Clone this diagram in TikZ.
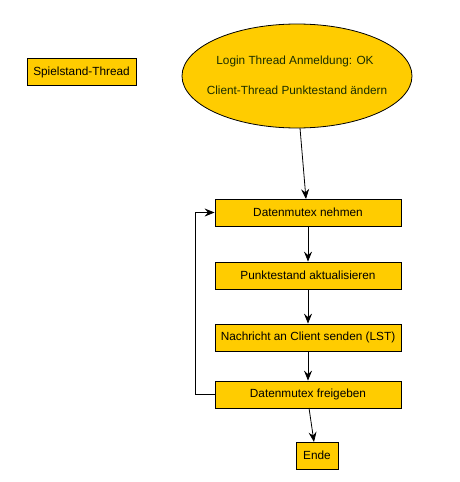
\documentclass[tikz,border=0pt]{standalone}
\usepackage{fontspec}
\setmainfont{Liberation Sans}
\usetikzlibrary{arrows.meta}
\definecolor{boxfill}{HTML}{FFCC00}
\definecolor{elltext}{RGB}{25,45,0}
\begin{document}
\begin{tikzpicture}[x=1pt,y=-1pt,
  box/.style={draw=black,fill=boxfill,line width=0.8pt,inner sep=0pt,font=\fontsize{11.8}{13}\selectfont},
  conn/.style={draw=black,line width=0.8pt,-{Stealth[length=10pt,width=8pt,inset=3.5pt]}},
  link/.style={draw=black,line width=0.8pt}]
\useasboundingbox (0,0) rectangle (460,482);
\node[box,minimum width=109pt,minimum height=27pt] (spiel) at (81.5,72) {Spielstand-Thread};
\draw[fill=boxfill,line width=0.8pt] (297,76) ellipse [x radius=115, y radius=52];
\node[inner sep=0pt,minimum width=230pt,minimum height=104pt] (ell) at (297,76) {};
\node[text=elltext,font=\fontsize{11.8}{13}\selectfont] (l1) at (295,61) {Login Thread Anmeldung: OK};
\node[text=elltext,font=\fontsize{11.8}{13}\selectfont] (l2) at (297,90) {Client-Thread Punktestand ändern};
\node[box,minimum width=186pt,minimum height=27pt] (nehmen) at (308,212.5) {Datenmutex nehmen};
\node[box,minimum width=186pt,minimum height=27pt] (punkt) at (308,275.5) {Punktestand aktualisieren};
\node[box,minimum width=186pt,minimum height=27pt] (nach) at (308,337.5) {Nachricht an Client senden (LST)};
\node[box,minimum width=186pt,minimum height=27pt] (frei) at (308,394.5) {Datenmutex freigeben};
\node[box,minimum width=42pt,minimum height=27pt] (ende) at (317,455.5) {Ende};
\coordinate (ellb) at (300,128);
\coordinate (nt) at (306,199);
\coordinate (fb) at (309,408);
\coordinate (et) at (314,442);
\coordinate (c1) at (195,394.5);
\coordinate (c2) at (195,212.5);
\draw[conn] (ellb) -- (nt);
\draw[conn] (nehmen) -- (punkt);
\draw[conn] (punkt) -- (nach);
\draw[conn] (nach) -- (frei);
\draw[conn] (fb) -- (et);
\draw[conn] (frei.west) -- (c1) -- (c2) -- (nehmen.west);
\end{tikzpicture}
\end{document}
